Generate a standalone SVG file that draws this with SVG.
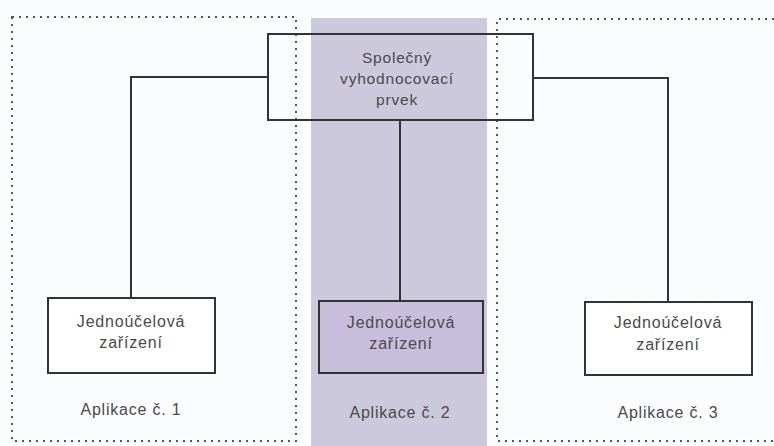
<svg xmlns="http://www.w3.org/2000/svg" width="774" height="446" viewBox="0 0 774 446">
<style>
.dot{fill:none;stroke:#555;stroke-width:2;stroke-dasharray:2 5}
.box{fill:none;stroke:#333;stroke-width:2}
.ln{fill:none;stroke:#333;stroke-width:2}
text{font-family:"Liberation Sans",Arial,sans-serif;font-size:16px;letter-spacing:0.8px;fill:#4a4a4a;text-anchor:middle}
.sm{font-size:15.5px;letter-spacing:0.8px}
</style>
<rect width="774" height="446" fill="#fbfcfd"/>
<g id="column2"><rect x="311" y="18" width="176" height="428" fill="#ccc9dc"/></g>
<g id="app1"><rect class="dot" x="12" y="17" width="284" height="424"/><text x="131" y="415">Aplikace č. 1</text></g>
<g id="app3"><path class="dot" d="M774 19H497V441H774"/><text x="668" y="418">Aplikace č. 3</text></g>
<g id="app2label"><text x="400" y="418">Aplikace č. 2</text></g>
<g id="connectors">
<path class="ln" d="M268 77H131V298"/>
<path class="ln" d="M533 78H668V302"/>
<path class="ln" d="M400 120V301"/>
</g>
<g id="common"><rect class="box" x="268" y="34" width="265" height="86"/>
<text class="sm" x="397" y="63">Společný</text><text class="sm" x="397" y="84">vyhodnocovací</text><text class="sm" x="397" y="105">prvek</text></g>
<g id="dev1"><rect x="48" y="298" width="167" height="75" fill="#fff" stroke="#333" stroke-width="2"/>
<text x="131" y="327">Jednoúčelová</text><text x="131" y="348">zařízení</text></g>
<g id="dev2"><rect x="319" y="301" width="164" height="72" fill="#c6bedb" stroke="#333" stroke-width="2"/>
<text x="401" y="328">Jednoúčelová</text><text x="401" y="349">zařízení</text></g>
<g id="dev3"><rect x="585" y="302" width="167" height="73" fill="#fff" stroke="#333" stroke-width="2"/>
<text x="668" y="328">Jednoúčelová</text><text x="668" y="350">zařízení</text></g>
</svg>
